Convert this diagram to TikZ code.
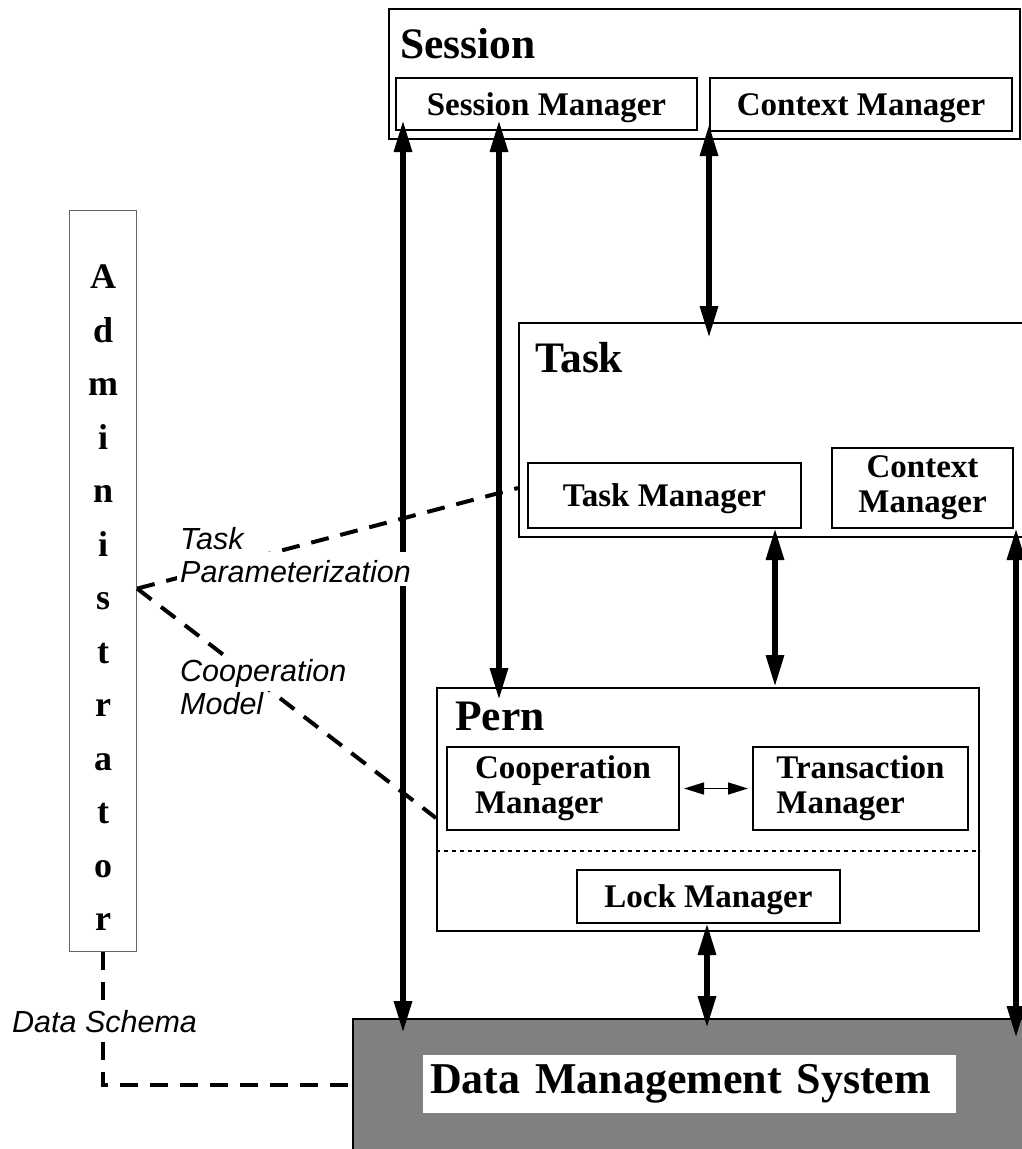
\documentclass[tikz,border=0pt]{standalone}
\usepackage{fontspec}
\newfontfamily\tmsfont{Liberation Serif}
\newfontfamily\hlvfont{Liberation Sans}
\usetikzlibrary{arrows.meta, calc}
\definecolor{dmsgray}{RGB}{128,128,128}
\definecolor{admingray}{RGB}{100,100,100}
\setlength{\fboxsep}{3pt}
\newcommand{\notefont}{\hlvfont\itshape\fontsize{30.5}{33}\selectfont\lineskiplimit=-50pt\relax}
\newcommand{\whiteline}[2]{\colorbox{white}{\rule{0pt}{#1}#2}}

\begin{document}
\begin{tikzpicture}[x=1pt, y=-1pt]
\tikzstyle{layer} = [rectangle, draw, line width=2pt, anchor=north west, inner sep=0pt]
\tikzstyle{manager} = [layer, align=center, font=\tmsfont\bfseries\fontsize{33}{35}\selectfont]
\tikzstyle{title} = [anchor=base west, inner sep=0pt, font=\tmsfont\bfseries\fontsize{43.5}{50}\selectfont]
\tikzstyle{note} = [anchor=west, inner sep=0pt, align=left, font=\notefont]
\tikzstyle{dbl} = [line width=6pt, >={Triangle[length=32pt,width=17pt]}, <->]
\tikzstyle{thinarrow} = [line width=1.5pt, >={Triangle[length=20pt,width=12pt]}, <->]
\tikzstyle{dashline} = [line width=4pt, dash pattern=on 18pt off 12pt]

\useasboundingbox (0,0) rectangle (1021,1149);

% session layer
\node (session) [layer, minimum width=631, minimum height=130] at (388,8) {};
\node (sestitle) [title] at ($(session.north west)+(12,50)$) {Session};
\node (sesmgr) [manager, text depth=0pt, minimum width=301, minimum height=52] at (395,77) {Session Manager};
\node (sesctx) [manager, text depth=0pt, minimum width=302, minimum height=53] at (709,77) {Context Manager};

% task layer
\node (task) [layer, minimum width=520, minimum height=214] at (518,322) {};
\node (tasktitle) [title] at ($(task.north west)+(17,50)$) {Task};
\node (taskmgr) [manager, text depth=0pt, minimum width=273, minimum height=65] at (527,462) {Task Manager};
\node (taskctx) [manager, minimum width=181, minimum height=80] at (831,447) {Context\\Manager};

% pern layer
\node (pern) [layer, minimum width=542, minimum height=243] at (436,687) {};
\node (perntitle) [title] at ($(pern.north west)+(19,43)$) {Pern};
\node (coopmgr) [manager, align=left, minimum width=232, minimum height=83] at (446,746) {Cooperation\\Manager};
\node (transmgr) [manager, align=left, minimum width=215, minimum height=83] at (752,746) {Transaction\\Manager};
\node (lockmgr) [manager, text depth=0pt, minimum width=263, minimum height=53] at (576,869) {Lock Manager};
\draw [line width=2pt, dash pattern=on 4pt off 4pt] ($(pern.north west)+(0,164)$) -- ($(pern.north east)+(0,164)$);

% data management system
\node (dms) [layer, fill=dmsgray, minimum width=700, minimum height=160] at (352,1018) {};
\node (dmsname) [fill=white, anchor=west, inner xsep=7pt, inner ysep=0pt, text width=519pt, minimum height=58pt,
  font=\tmsfont\bfseries\fontsize{44}{50}\selectfont] at ($(dms.north west)+(71,66)$) {Data Management System};

% administrator
\node (admin) [layer, draw=admingray, line width=1.2pt, minimum width=67, minimum height=741, align=center,
  font=\tmsfont\bfseries\fontsize{36}{53.5}\selectfont] at (69,210)
  {\rule{0pt}{57pt}A\\d\\m\\i\\n\\i\\s\\t\\r\\a\\t\\o\\r};

% calls between the layers
\draw [dbl] ($(sesmgr.south west)+(8,-11)$) -- ($(sesmgr.south west |- dms.north)+(8,15)$);
\draw [dbl] ($(sesmgr.south west)+(104,-11)$) -- ($(sesmgr.south west |- pern.north)+(104,13)$);
\draw [dbl] ($(sesctx.south west)+(0,-8)$) -- ($(sesctx.south west |- task.north)+(0,16)$);
\draw [dbl] ($(taskmgr.south east)+(-27,-1)$) -- ($(taskmgr.south east |- pern.north)+(-27,0)$);
\draw [dbl] ($(lockmgr.south west)+(131,-1)$) -- ($(lockmgr.south west |- dms.north)+(131,10)$);
\draw [dbl] ($(taskctx.south east)+(2,-1)$) -- ($(taskctx.south east |- dms.north)+(2,20)$);
\draw [thinarrow, shorten <=4pt, shorten >=4pt] (coopmgr) -- (transmgr);

% administrator links
\coordinate (apex) at ($(admin.east)+(0,7.5)$);
\draw [dashline] (apex) -- ($(task.north west)+(0,166)$);
\draw [dashline] (apex) -- ($(pern.north west)+(0,131)$);
\draw [dashline] (admin.south) |- ($(dms.north west)+(0,67)$);

\node (taskpar) [note] at (177,555) {\colorbox{white}{Task}\\\whiteline{27pt}{Parameterization}};
\node (coopmod) [note] at (177,687) {\colorbox{white}{Cooperation}\\\whiteline{24pt}{Model}};
\node (schema) [note, fill=white, inner sep=3pt, anchor=base west] at (9,1032) {Data Schema};
\end{tikzpicture}
\end{document}
